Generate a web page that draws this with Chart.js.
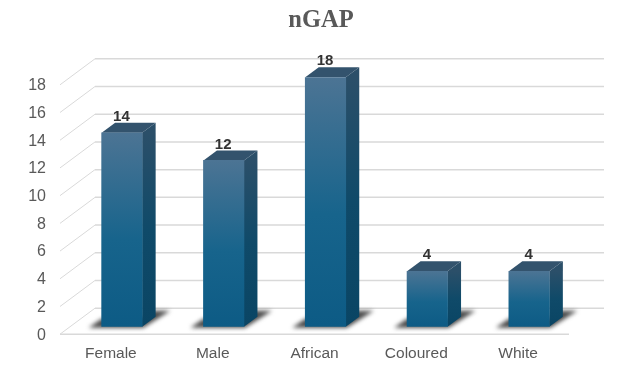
<!DOCTYPE html>
<html>
<head>
<meta charset="utf-8">
<style>
  html, body { margin: 0; padding: 0; background: #fff; }
  canvas { display: block; }
</style>
<script src="https://cdn.jsdelivr.net/npm/chart.js@4"></script>
</head>
<body>
<canvas id="chart" width="642" height="365"></canvas>
<script>
const categories = ['Female', 'Male', 'African', 'Coloured', 'White'];
const values = [14, 12, 18, 4, 4];
const chartTitle = 'nGAP';

// fake 3d: offsets from the bar plane to the front and back of the box
const FRONT = { x: -11, y: 7.5 };
const BACK = { x: 24, y: -18.5 };
const DEPTH = { x: 13.5, y: -10 };
const GRID = '#d9d9d9';
const TEXT = '#595959';

function frontGradient(ctx) {
  if (ctx.type !== 'data') return '#0d5b85';
  const chart = ctx.chart;
  const y = chart.scales.y;
  const top = y.getPixelForValue(ctx.raw);
  const bottom = y.getPixelForValue(0);
  // scales have no size yet on the very first pass
  if (!Number.isFinite(top) || !Number.isFinite(bottom)) return '#0d5b85';
  const g = chart.ctx.createLinearGradient(0, top, 0, bottom);
  g.addColorStop(0, '#4c7494');
  g.addColorStop(0.55, '#17648c');
  g.addColorStop(1, '#0d5b85');
  return g;
}

function poly(c, pts, fill) {
  c.beginPath();
  pts.forEach((p, i) => (i ? c.lineTo(p[0], p[1]) : c.moveTo(p[0], p[1])));
  c.closePath();
  c.fillStyle = fill;
  c.fill();
}

const box3d = {
  id: 'box3d',
  beforeDatasetsDraw(chart) {
    const c = chart.ctx;
    const area = chart.chartArea;
    const y = chart.scales.y;

    // walls
    c.save();
    c.strokeStyle = GRID;
    y.ticks.forEach(t => {
      const py = y.getPixelForValue(t.value);
      c.lineWidth = 1;
      c.beginPath();
      c.moveTo(area.left + FRONT.x, py + FRONT.y);
      c.lineTo(area.left + BACK.x, py + BACK.y);
      c.stroke();
      c.lineWidth = 1.5;
      c.beginPath();
      c.moveTo(area.left + BACK.x, py + BACK.y);
      c.lineTo(area.right + BACK.x, py + BACK.y);
      c.stroke();
    });
    c.lineWidth = 1.5;
    c.beginPath();
    c.moveTo(area.left + FRONT.x, area.bottom + FRONT.y);
    c.lineTo(area.right + FRONT.x, area.bottom + FRONT.y);
    c.stroke();
    c.restore();

    const bars = chart.getDatasetMeta(0).data;

    // floor shadows
    c.save();
    c.filter = 'blur(2px)';
    bars.forEach(b => {
      const l = b.x - b.width / 2, r = b.x + b.width / 2;
      poly(c, [[l - 13, b.base + 1], [r + 1, b.base + 1], [r + 28, b.base - 16], [r + 8, b.base - 16], [r, b.base - 8], [l, b.base - 8]], '#4a4a4a');
    });
    c.restore();

    // side and top faces
    bars.forEach(b => {
      const l = b.x - b.width / 2, r = b.x + b.width / 2;
      const side = c.createLinearGradient(0, b.y, 0, b.base);
      side.addColorStop(0, '#2b4f69');
      side.addColorStop(0.5, '#0f4a69');
      side.addColorStop(1, '#0a4564');
      poly(c, [[r, b.y], [r + DEPTH.x, b.y + DEPTH.y], [r + DEPTH.x, b.base + DEPTH.y], [r, b.base]], side);
      poly(c, [[l, b.y], [l + DEPTH.x, b.y + DEPTH.y], [r + DEPTH.x, b.y + DEPTH.y], [r, b.y]], '#33536d');
    });
  },
  afterDatasetsDraw(chart) {
    const c = chart.ctx;
    c.save();
    c.font = 'bold 15px "Liberation Sans", Arial, sans-serif';
    c.fillStyle = '#333333';
    c.textAlign = 'center';
    c.textBaseline = 'middle';
    chart.getDatasetMeta(0).data.forEach((b, i) => {
      c.fillText(String(values[i]), b.x - 0.5, b.y - 16);
    });
    c.restore();
  }
};

new Chart(document.getElementById('chart'), {
  type: 'bar',
  data: {
    labels: categories,
    datasets: [{
      data: values,
      backgroundColor: frontGradient,
      borderWidth: 0,
      barThickness: 40.5
    }]
  },
  plugins: [box3d],
  options: {
    responsive: false,
    animation: false,
    layout: { padding: 0 },
    plugins: {
      legend: { display: false },
      tooltip: { enabled: false },
      title: {
        display: true,
        text: chartTitle,
        color: TEXT,
        font: { family: '"Liberation Serif", "Times New Roman", serif', size: 24.5, weight: 'bold', lineHeight: 1.2 },
        padding: { top: 6, bottom: 41.9 }
      }
    },
    scales: {
      x: {
        grid: { display: false },
        border: { display: false },
        ticks: {
          color: TEXT,
          font: { family: '"Liberation Sans", Arial, sans-serif', size: 15.5 },
          labelOffset: FRONT.x,
          padding: 10,
          maxRotation: 0
        },
        afterFit(scale) { scale.height = 38.3; }
      },
      y: {
        min: 0,
        max: 18,
        grid: { display: false, drawTicks: false },
        border: { display: false },
        ticks: {
          stepSize: 2,
          color: TEXT,
          font: { family: '"Liberation Sans", Arial, sans-serif', size: 16 },
          labelOffset: FRONT.y + 1,
          padding: 25
        },
        afterFit(scale) { scale.width = 71; }
      },
      // empty right axis, only keeps room for the back wall
      yRight: {
        position: 'right',
        grid: { display: false },
        border: { display: false },
        ticks: { display: false },
        afterFit(scale) { scale.width = 62; }
      }
    }
  }
});
</script>
</body>
</html>
